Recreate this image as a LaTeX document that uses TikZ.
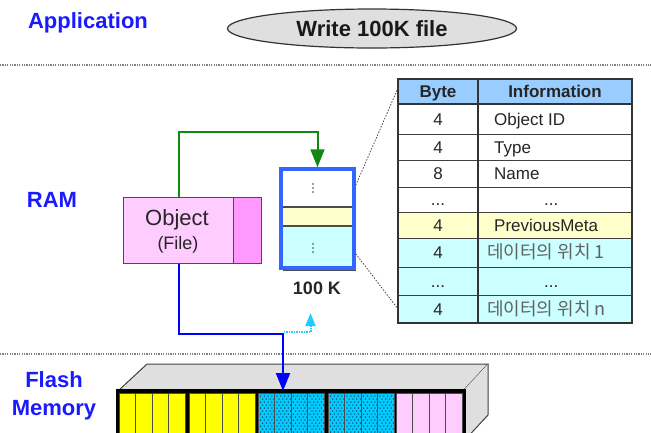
\documentclass[tikz,border=0pt]{standalone}
\usepackage{fontspec}
\setmainfont{Liberation Sans}
\newfontfamily\kr{Noto Sans CJK KR}
\usetikzlibrary{shapes.geometric,arrows.meta,calc}

\definecolor{lblblue}{HTML}{1A1AFF}
\definecolor{objpink}{HTML}{FFCCFF}
\definecolor{objtab}{HTML}{FF99FF}
\definecolor{bufblue}{HTML}{3366FF}
\definecolor{paleyellow}{HTML}{FFFFCC}
\definecolor{palecyan}{HTML}{CCFFFF}
\definecolor{headblue}{HTML}{99CCFF}
\definecolor{flashcyan}{HTML}{00CCFF}
\definecolor{flashyellow}{HTML}{FFFF00}
\definecolor{flashpink}{HTML}{FFCCFF}
\definecolor{arrowgreen}{HTML}{118811}
\definecolor{hintcyan}{HTML}{22CCFF}
\definecolor{speck}{HTML}{1A3A5A}
\newcommand\tabdots{...}

\begin{document}
\begin{tikzpicture}[x=1pt,y=-1pt,
  lbl/.style={text=lblblue, font=\fontsize{22}{28}\selectfont\bfseries, align=center, inner sep=0},
  sepline/.style={draw=gray, line width=1.6pt, dash pattern=on 1.2pt off 1.2pt},
  tabline/.style={draw=black!75, line width=1pt},
  celltext/.style={font=\fontsize{17}{20}\selectfont, text=black!85, inner sep=0},
  krtext/.style={font=\kr\fontsize{18}{20}\selectfont, text=black!62, inner sep=0},
  headtext/.style={font=\fontsize{17}{20}\selectfont\bfseries, text=black!85, inner sep=0},
  cellbox/.style={draw=black!70, line width=0.8pt},
  dotmark/.style={fill=black!75, draw=none},
  bigtip/.style={-{Triangle[width=14pt,length=18pt]}},
]
\useasboundingbox (0,0) rectangle (651,432);
\clip (0,0) rectangle (651,432);

% layer labels
\node[lbl] (lapp) at (88,23) {Application};
\node[lbl] (lram) at (52,200) {RAM};
\node[lbl] (lflash) at (54,396) {Flash\\Memory};

% layer separators
\draw[sepline] (0,65) -- (651,65);
\draw[sepline] (0,354) -- (651,354);

% application request
\node[ellipse, draw=black!80, line width=1.2pt, fill=gray!25, minimum width=289pt,
      minimum height=39pt, inner sep=0, font=\fontsize{22}{26}\selectfont\bfseries,
      text=black!90] (app) at (372,28.5) {Write 100K file};

% object (file) in RAM
\node[draw=black!70, line width=1pt, fill=objpink, minimum width=110pt, minimum height=66pt,
      inner sep=0, anchor=north west] (objmain) at (123,197) {};
\node[draw=black!70, line width=1pt, fill=objtab, minimum width=28pt, minimum height=66pt,
      inner sep=0, anchor=north west] (objtab) at (233,197) {};
\node[font=\fontsize{22}{26}\selectfont, text=black!85, inner sep=0, anchor=base]
      (objname) at (177,225) {Object};
\node[font=\fontsize{18}{22}\selectfont, text=black!85, inner sep=0, anchor=base]
      (objkind) at (178,249) {(File)};

% 100 K buffer
\fill[white] (281,169) rectangle (354,207);
\fill[paleyellow] (281,207) rectangle (354,226);
\fill[palecyan] (281,226) rectangle (354,268);
\draw[black!70, line width=1.2pt] (281,207) -- (354,207) (281,226) -- (354,226);
\draw[black!70, line width=1pt] (283,270) -- (356,270);
\node[draw=bufblue, line width=3.5pt, minimum width=73pt, minimum height=99pt,
      inner sep=0] (buf) at (317.5,218.5) {};
\foreach \yy in {184,188,192,244,248,252}
  \fill[dotmark] (313,\yy) circle (0.9);
\node[font=\fontsize{18}{22}\selectfont\bfseries, text=black!85, inner sep=0] (bufsize)
      at (317,288) {100 K};

% metadata table
\node[tabline, fill=headblue, minimum width=80pt, minimum height=25pt, inner sep=0,
      anchor=north west] (byte0) at (398,79) {};
\node[tabline, fill=headblue, minimum width=154pt, minimum height=25pt, inner sep=0,
      anchor=north west] (info0) at (478,79) {};
\node[headtext, anchor=base] (hbyte) at (438,97.5) {Byte};
\node[headtext, anchor=base] (hinfo) at (555,97.5) {Information};

\foreach \t/\b/\c/\by/\info/\st/\ix [count=\i] in {
   104/134/white/4/Object ID/celltext/494,
   134/160/white/4/Type/celltext/494,
   160/187/white/8/Name/celltext/494,
   187/212/white/{\tabdots}/{\tabdots}/celltext/544,
   212/238/paleyellow/4/PreviousMeta/celltext/494,
   238/267/palecyan/4/데이터의 위치 1/krtext/487,
   267/295/palecyan/{\tabdots}/{\tabdots}/celltext/544,
   295/323/palecyan/4/데이터의 위치 n/krtext/487} {
  \pgfmathsetmacro{\hh}{\b-\t}
  \pgfmathsetmacro{\bl}{(\t+\b)/2+6}
  \node[tabline, fill=\c, minimum width=80pt, minimum height=\hh pt, inner sep=0,
        anchor=north west] (byte\i) at (398,\t) {};
  \node[tabline, fill=\c, minimum width=154pt, minimum height=\hh pt, inner sep=0,
        anchor=north west] (info\i) at (478,\t) {};
  \node[celltext, anchor=base] (bytetxt\i) at (438,\bl) {\by};
  \node[\st, anchor=base west] (infotxt\i) at (\ix,\bl) {\info};
}
\draw[black!80, line width=1.4pt] (398,79) rectangle (632,323);
\draw[black!80, line width=1.4pt] (398,104) -- (632,104) (478,79) -- (478,323);

% zoom lines from buffer to table
\draw[black!70, line width=0.8pt, dash pattern=on 1.5pt off 1.5pt]
  ($(buf.north east)+(0,18)$) -- ($(byte0.north west)+(0,9)$);
\draw[black!70, line width=0.8pt, dash pattern=on 1.5pt off 1.5pt]
  ($(buf.south east)+(0,-16)$) -- ($(byte8.south west)+(0,-15)$);

% flash memory block
\fill[gray!25] (118,391) -- (147,364) -- (488,364) -- (463,391) -- cycle;
\draw[black!75, line width=1pt] (118,391) -- (147,364) -- (488,364) -- (463,391);
\fill[gray!25] (463,391) -- (488,364) -- (488,415) -- (463,442) -- cycle;
\draw[black!75, line width=1pt] (488,364) -- (488,415) -- (463,442);
\node[fill=black, draw=black, line width=1pt, minimum width=349pt, minimum height=60pt,
      inner sep=0, anchor=north west] (flash) at (116,389) {};
\foreach \gx/\gc/\pat in {119/flashyellow/0, 189/flashyellow/0, 258/flashcyan/1,
                           328/flashcyan/1, 396/flashpink/0} {
  \foreach \k in {0,1,2,3} {
    \pgfmathsetmacro{\cx}{\gx+16.5*\k}
    \fill[\gc] (\cx,393) rectangle ++(16.5,60);
    \ifnum\pat=1
      % speckled cells: staggered grid of dark dots
      \foreach \r in {0,...,13} {
        \pgfmathsetmacro{\dy}{396+3*\r}
        \pgfmathsetmacro{\off}{mod(\r,2)==0 ? 2.5 : 4.5}
        \foreach \c in {0,1,2,3} {
          \fill[speck] ({\cx+\off+3.8*\c},\dy) circle (0.75);
        }
      }
    \fi
    \draw[cellbox] (\cx,393) rectangle ++(16.5,60);
  }
}
\coordinate (wr) at ($(flash.north west)+(167,2)$);

% write path: metadata update (green) and data write (blue)
\draw[arrowgreen, line width=2pt, bigtip] (objmain.north) -- ++(0,-65) -| (buf.north);
\coordinate (bendpt) at ($(objmain.south)+(0,70)$);
\draw[blue, line width=2pt, bigtip] (objmain.south) -- (bendpt) -| (wr);

% read-back hint (dotted)
\coordinate (hs) at ($(bendpt)+(105,-2)$);
\coordinate (he) at ($(hs)+(27,-19)$);
\draw[hintcyan, line width=2pt, dash pattern=on 1.5pt off 1pt,
      -{Triangle[width=10pt,length=13pt]}] (hs) -| (he);
\end{tikzpicture}
\end{document}
